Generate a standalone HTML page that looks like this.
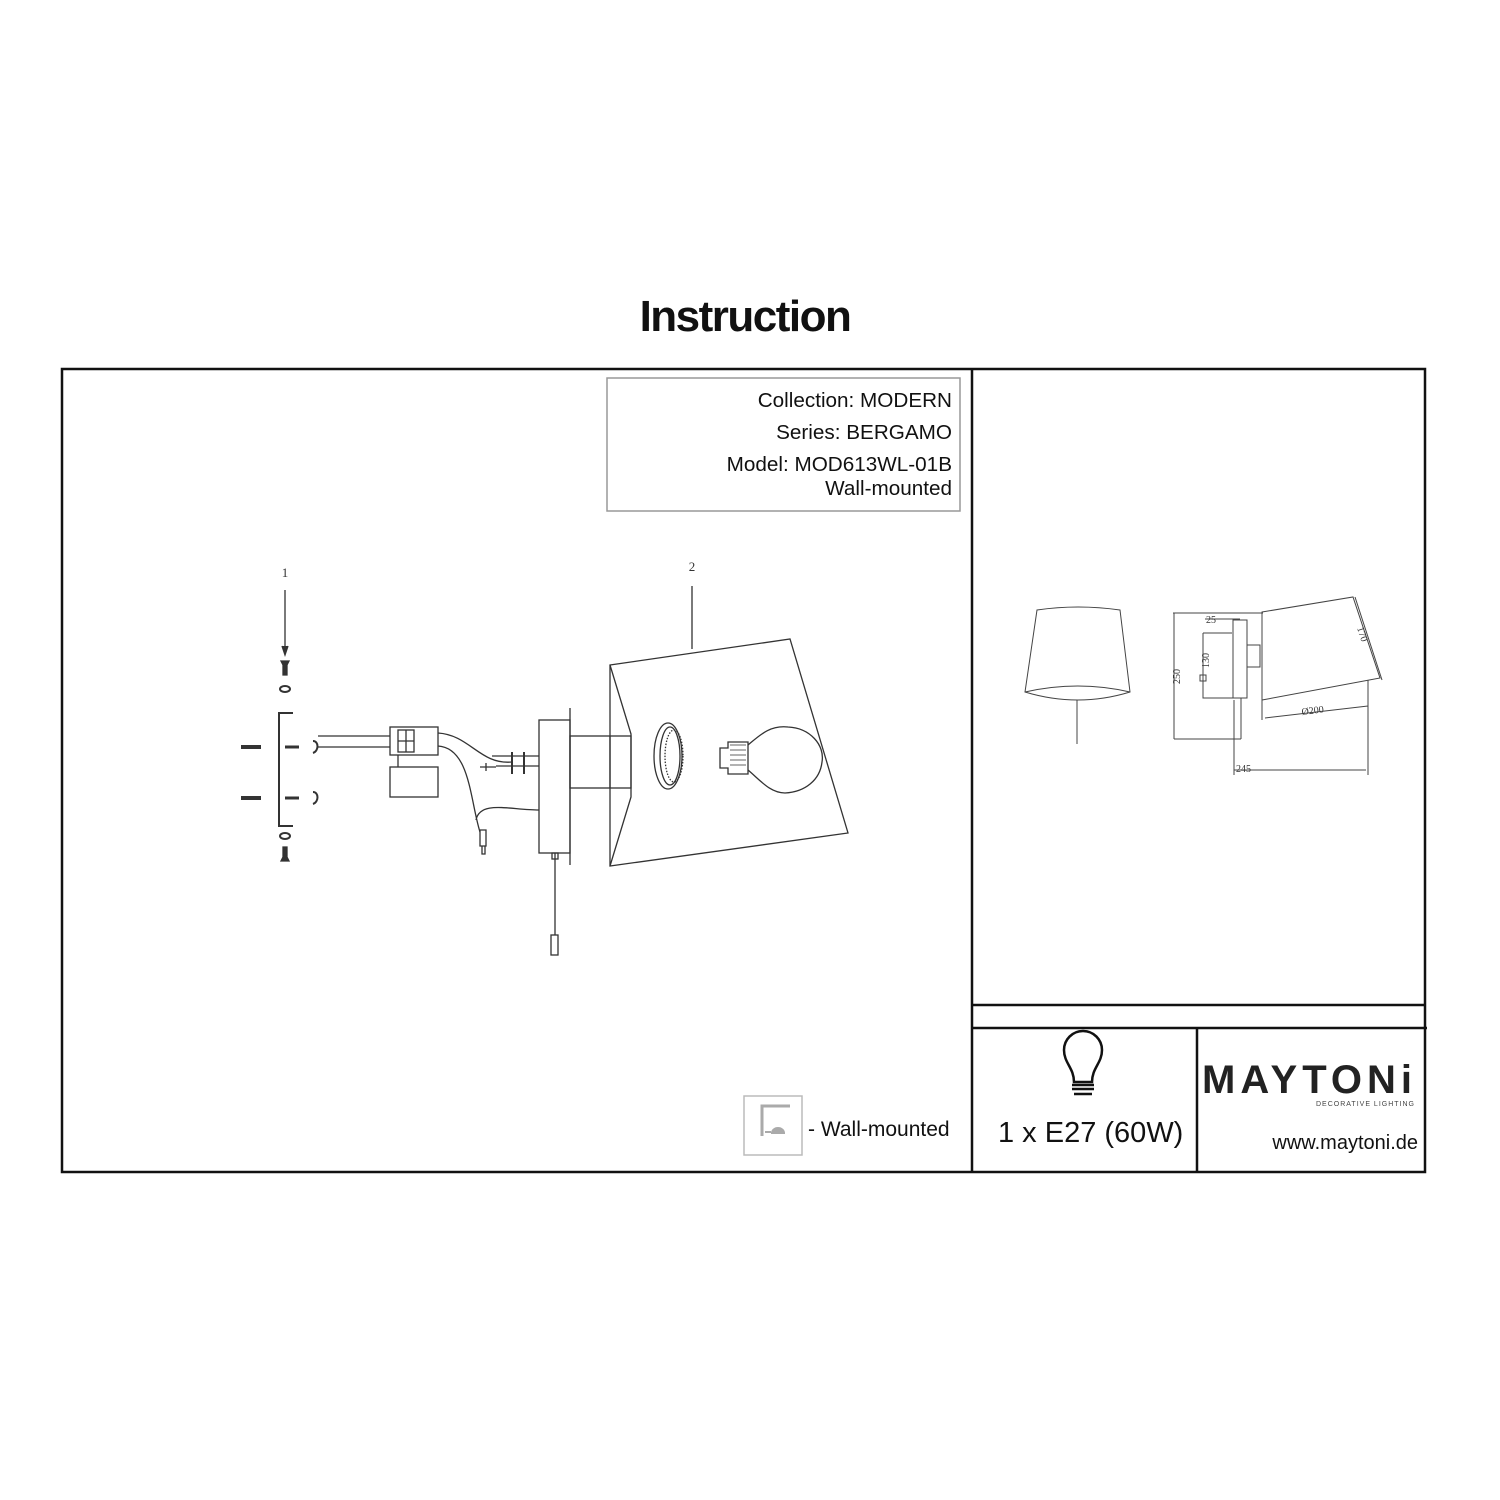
<!DOCTYPE html>
<html><head><meta charset="utf-8"><style>
html,body{margin:0;padding:0;background:#fff;}
body{width:1500px;height:1500px;position:relative;overflow:hidden;font-family:"Liberation Sans",sans-serif;}
.t{position:absolute;white-space:nowrap;color:#111;}
</style></head><body>
<svg width="1500" height="1500" style="position:absolute;left:0;top:0" font-family="Liberation Sans, sans-serif">
<g stroke="#111" fill="none" stroke-width="2.5">
<rect x="62" y="369" width="1363" height="803"/>
<line x1="972" y1="369" x2="972" y2="1172"/>
<line x1="972" y1="1005" x2="1425" y2="1005"/>
<line x1="972" y1="1028" x2="1427" y2="1028"/>
<line x1="1197" y1="1028" x2="1197" y2="1172"/>
</g>
<rect x="607" y="378" width="353" height="133" fill="none" stroke="#999" stroke-width="1.5"/>
<rect x="744" y="1096" width="58" height="59" fill="none" stroke="#bbb" stroke-width="1.5"/>
<path d="M762 1136 V1106 H790" stroke="#aaa" stroke-width="3" fill="none"/>
<path d="M765 1132 h6 M772 1133 a6 5 0 0 1 12 0 z" stroke="#aaa" stroke-width="2" fill="#aaa"/>

<g stroke="#333" fill="none" stroke-width="1.3">
<text x="285" y="577" font-size="13" font-family="Liberation Serif, serif" fill="#333" stroke="none" text-anchor="middle">1</text>
<line x1="285" y1="590" x2="285" y2="652"/>
<path d="M282 646 L285 655 L288 646" fill="#333"/>
<path d="M281 661 h8 l-2 4 v10 h-4 v-10 z" fill="#333"/>
<ellipse cx="285" cy="689" rx="5" ry="3" stroke-width="2"/>
<path d="M293 713 H279 V826 H293" stroke-width="2"/>
<ellipse cx="285" cy="836" rx="5" ry="3" stroke-width="2"/>
<path d="M283 847 h4 v10 l2 4 h-8 l2 -4 z" fill="#333"/>
<path d="M241 747 h20 M241 798 h20" stroke-width="4"/>
<path d="M285 747 h14 M285 798 h14" stroke-width="3"/>
<path d="M313 741 c6 0 6 10 0 12 M313 792 c6 0 6 10 0 12" stroke-width="2"/>
<path d="M318 736 H390 M318 747 H390"/>
<rect x="390" y="727" width="48" height="28"/>
<rect x="398" y="730" width="16" height="22"/>
<path d="M398 741 h16 M406 730 v22"/>
<rect x="390" y="767" width="48" height="30"/>
<line x1="398" y1="755" x2="398" y2="767"/>
<path d="M438 733 C470 735 480 765 512 762 M438 746 C470 748 470 800 480 832 M476 820 C480 800 510 810 539 810"/>
<path d="M480 830 v16 h6 v-16 z M482 846 v8 h3 v-8"/>
<path d="M480 767 h16 M486 763 v8 M496 766 h43 M492 756 h47"/>
<path d="M512 752 v22 M524 752 v22" stroke-width="2"/>
<rect x="539" y="720" width="31" height="133"/>
<line x1="570" y1="708" x2="570" y2="865"/>
<rect x="570" y="736" width="61" height="52"/>
<line x1="610" y1="736" x2="610" y2="788"/>
<path d="M555 853 V935"/><rect x="551" y="935" width="7" height="20"/>
<rect x="552" y="853" width="6" height="6"/>
<polygon points="610,665 790,639 848,833 610,866"/>
<path d="M610 665 L631 734 V797 L610 866"/>
<text x="692" y="571" font-size="13" font-family="Liberation Serif, serif" fill="#333" stroke="none" text-anchor="middle">2</text>
<line x1="692" y1="586" x2="692" y2="649"/>
<ellipse cx="668" cy="756" rx="14" ry="33"/>
<ellipse cx="670" cy="756" rx="10" ry="29"/>
<ellipse cx="674" cy="756" rx="9" ry="26" stroke-dasharray="1.5 1.5"/>
<path d="M720 748 h8 v-6 h20 v32 h-20 v-6 h-8 z"/>
<path d="M730 745 h16 M730 750 h16 M730 755 h16 M730 760 h16 M730 765 h16" stroke-width="0.8"/>
<path d="M748 745 C760 735 770 725 788 727 C810 728 825 745 822 762 C820 780 805 792 785 793 C770 793 760 780 748 770"/>
</g>

<g stroke="#444" fill="none" stroke-width="1">
<path d="M1037 610 Q1078 604 1120 610 L1130 692 Q1078 708 1025 692 Z"/>
<path d="M1025 692 Q1078 680 1130 692"/>
<line x1="1077" y1="700" x2="1077" y2="744"/>
<path d="M1173 613 H1263 M1174 613 V739 M1174 739 H1241"/>
<path d="M1205 619 H1240 M1203 633 H1232 M1203 633 V698 H1241"/>
<rect x="1233" y="620" width="14" height="78"/>
<rect x="1247" y="645" width="13" height="22"/>
<line x1="1241" y1="698" x2="1241" y2="739"/>
<rect x="1200" y="675" width="6" height="6"/>
<polygon points="1262,612 1353,597 1380,678 1262,700"/>
<path d="M1355 597 L1382 680"/>
<path d="M1265 718 L1368 706 M1262 700 V720 M1368 680 V775"/>
<path d="M1234 700 V775 M1234 770 H1366"/>
</g>
<g font-family="Liberation Serif, serif" font-size="10" fill="#333">
<text x="1206" y="623">25</text>
<text x="1236" y="772">245</text>
<text x="1302" y="715" transform="rotate(-7 1302 715)">Ø200</text>
<text transform="translate(1180 684) rotate(-90)">250</text>
<text transform="translate(1209 668) rotate(-90)">130</text>
<text transform="translate(1357 628) rotate(72)">170</text>
</g>

<g stroke="#111" fill="none" stroke-width="2.5">
<path d="M1074 1082 C1074 1068 1064 1063 1064 1050 A19 19 0 1 1 1102 1050 C1102 1063 1092 1068 1092 1082 Z"/>
<path d="M1072 1085 H1094 M1072 1089 H1094 M1074 1094 H1092"/>
</g>
</svg>

<div class="t" style="left:0;width:1490px;text-align:center;top:292px;font-size:44px;font-weight:bold;letter-spacing:-1.5px">Instruction</div>
<div class="t" style="right:548px;top:385px;font-size:20.7px;text-align:right;line-height:32px">Collection: MODERN<br>Series: BERGAMO<br>Model: MOD613WL-01B</div>
<div class="t" style="right:548px;top:477px;font-size:20.7px">Wall-mounted</div>
<div class="t" style="left:808px;top:1118px;font-size:21px">- Wall-mounted</div>
<div class="t" style="left:998px;top:1117px;font-size:29px">1 x E27 (60W)</div>
<div class="t" style="left:1202px;top:1058px;font-size:40px;letter-spacing:5px;font-weight:bold;color:#222">MAYTONi</div>
<div class="t" style="right:85px;top:1101px;font-size:7px;letter-spacing:1px;color:#444">DECORATIVE LIGHTING</div>
<div class="t" style="right:82px;top:1132px;font-size:20px">www.maytoni.de</div>
</body></html>
